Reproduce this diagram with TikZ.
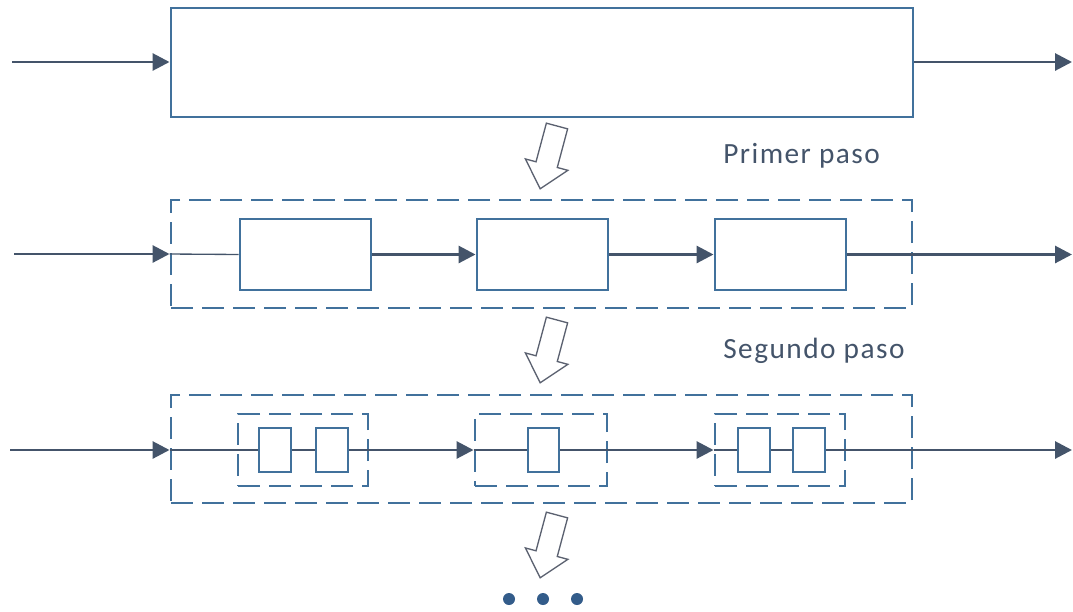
\documentclass[tikz,border=0pt]{standalone}
\usepackage{fontspec}
\usetikzlibrary{arrows.meta,fit}
\newfontfamily\labelfont{Carlito}[LetterSpace=5]
\definecolor{boxblue}{HTML}{41719C}
\definecolor{arrowgray}{HTML}{44546A}
\definecolor{hollowgray}{HTML}{5B6170}
\definecolor{dotblue}{HTML}{335C8A}
\tikzset{
  box/.style={draw=boxblue, line width=2.2pt, inner sep=0pt, fill=none},
  dbox/.style={box, dash pattern=on 16.5pt off 6.75pt},
  arr/.style={draw=arrowgray, line width=2.2pt, -{Triangle[length=12.75pt,width=12.75pt]}},
  thin line/.style={draw=arrowgray, line width=1pt},
  hollowline/.style={draw=hollowgray, line width=1pt, line join=miter},
  hollow/.pic={\draw[hollowline, rotate=-15] (-11,0) -- (-11,40) -- (-22,40) -- (0,65) -- (22,40) -- (11,40) -- (11,0) -- cycle;},
  dot/.style={circle, fill=dotblue, inner sep=0pt, minimum size=9pt},
  steplabel/.style={anchor=base west, inner sep=0pt, text=arrowgray, font=\labelfont\fontsize{22}{26}\selectfont}
}
\begin{document}
\begin{tikzpicture}[x=0.75pt, y=-0.75pt]
\useasboundingbox (0,0) rectangle (1073,611);
% row 1
\node[box, fit={(171,8) (913,117)}] (top) {};
\coordinate (in1) at (12,62);
\coordinate (out1) at (1072,62);
\draw[arr] (in1) -- (in1 -| top.west);
\draw[arr] (top.east |- out1) -- (out1);
\pic at (557,126) {hollow};
\node[steplabel] (l1) at (723,163) {Primer paso};
% row 2
\node[dbox, fit={(171,200) (912,308)}] (d2) {};
\node[box, fit={(240,219) (371,290)}] (b21) {};
\node[box, fit={(477,219) (608,290)}] (b22) {};
\node[box, fit={(715,219) (846,290)}] (b23) {};
\coordinate (in2) at (14,254);
\coordinate (out2) at (1072,254);
\draw[arr] (in2) -- (d2.west);
\draw[thin line] (d2.west) -- (b21.west);
\draw[arr] (b21.east) -- (b22.west);
\draw[arr] (b22.east) -- (b23.west);
\draw[arr] (b23.east) -- (out2 |- b23.east);
\pic at (557,320) {hollow};
\node[steplabel] (l2) at (723,358) {Segundo paso};
% row 3
\node[dbox, fit={(171,395) (912,503)}] (d3) {};
\node[dbox, fit={(238,414) (368,486)}] (i31) {};
\node[dbox, fit={(475,414) (607,486)}] (i32) {};
\node[dbox, fit={(715,414) (845,486)}] (i33) {};
\node[box, fit={(259,428) (291,472)}] (s1) {};
\node[box, fit={(316,428) (348,472)}] (s2) {};
\node[box, fit={(528,428) (559,472)}] (s3) {};
\node[box, fit={(738,428) (770,472)}] (s4) {};
\node[box, fit={(793,428) (825,472)}] (s5) {};
\coordinate (in3) at (10,450);
\coordinate (out3) at (1072,450);
\draw[arr] (in3) -- (in3 -| d3.west);
\draw[thin line] (in3 -| d3.west) -- (s1.west);
\draw[thin line] (s1.east) -- (s2.west);
\draw[thin line] (s2.east) -- (i31.east);
\draw[arr] (i31.east) -- (i32.west);
\draw[thin line] (i32.west) -- (s3.west);
\draw[thin line] (s3.east) -- (i32.east);
\draw[arr] (i32.east) -- (i33.west);
\draw[thin line] (i33.west) -- (s4.west);
\draw[thin line] (s4.east) -- (s5.west);
\draw[thin line] (s5.east) -- (i33.east);
\draw[arr] (i33.east) -- (out3);
\pic at (557,515) {hollow};
\node[dot] (dot1) at (509,599) {};
\node[dot] (dot2) at (543,599) {};
\node[dot] (dot3) at (577,599) {};
\end{tikzpicture}
\end{document}
